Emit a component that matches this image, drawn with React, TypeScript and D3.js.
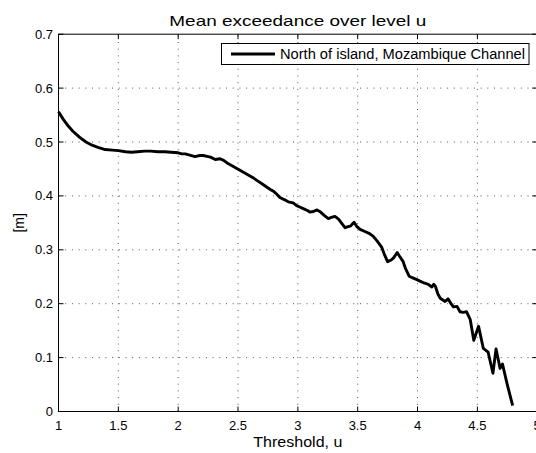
import React from "react";
import * as d3 from "d3";

const thresholds = [
  1.0, 1.04, 1.08, 1.12, 1.18, 1.23, 1.28, 1.33, 1.39, 1.45, 1.5, 1.56, 1.61, 1.66, 1.72, 1.77, 1.83, 1.89, 1.94, 2.0,
  2.03, 2.06, 2.09, 2.14, 2.18, 2.21, 2.25, 2.27, 2.31, 2.35, 2.38, 2.42, 2.45, 2.49, 2.52, 2.56, 2.6, 2.63, 2.67, 2.7,
  2.73, 2.77, 2.8, 2.82, 2.85, 2.89, 2.92, 2.96, 2.99, 3.02, 3.05, 3.08, 3.1, 3.13, 3.16, 3.19, 3.22, 3.255, 3.28, 3.31,
  3.34, 3.37, 3.394, 3.42, 3.44, 3.47, 3.49, 3.52, 3.56, 3.6, 3.63, 3.66, 3.7, 3.72, 3.75, 3.78, 3.8, 3.83, 3.85, 3.88,
  3.9, 3.93, 3.96, 3.99, 4.02, 4.06, 4.09, 4.12, 4.135, 4.15, 4.17, 4.19, 4.23, 4.255, 4.28, 4.3, 4.33, 4.355, 4.38, 4.41,
  4.44, 4.47, 4.51, 4.55, 4.59, 4.63, 4.656, 4.69, 4.71, 4.75, 4.795,
];
const meanExcess = [
  0.556, 0.542, 0.53, 0.52, 0.508, 0.5, 0.494, 0.49, 0.486, 0.485, 0.484, 0.482, 0.481, 0.482, 0.483, 0.483, 0.482, 0.482, 0.481, 0.48,
  0.478, 0.478, 0.476, 0.473, 0.475, 0.475, 0.473, 0.472, 0.4675, 0.469, 0.466, 0.4595, 0.456, 0.451, 0.447, 0.442, 0.437, 0.433, 0.427, 0.4225,
  0.418, 0.412, 0.408, 0.404, 0.397, 0.3927, 0.389, 0.387, 0.382, 0.379, 0.376, 0.373, 0.37, 0.371, 0.374, 0.37, 0.364, 0.358, 0.36, 0.362,
  0.357, 0.348, 0.341, 0.343, 0.344, 0.351, 0.344, 0.338, 0.334, 0.33, 0.325, 0.317, 0.305, 0.293, 0.278, 0.281, 0.285, 0.295, 0.288, 0.278,
  0.265, 0.251, 0.248, 0.245, 0.242, 0.238, 0.236, 0.231, 0.236, 0.232, 0.218, 0.21, 0.204, 0.209, 0.2, 0.194, 0.195, 0.185, 0.184, 0.185,
  0.171, 0.132, 0.158, 0.117, 0.11, 0.071, 0.116, 0.08, 0.088, 0.05, 0.011,
];
const xTicks = [1, 1.5, 2, 2.5, 3, 3.5, 4, 4.5, 5];
const yTicks = [0, 0.1, 0.2, 0.3, 0.4, 0.5, 0.6, 0.7];
const titleText = "Mean exceedance over level u";
const xLabelText = "Threshold, u";
const yLabelText = "[m]";
const legendText = "North of island, Mozambique Channel";

const W = 536;
const H = 453;
const FONT = "'Liberation Sans', Arial, Helvetica, sans-serif";

export default function App() {
  const x = d3.scaleLinear().domain([1, 5]).range([58.5, 537.2]);
  const y = d3.scaleLinear().domain([0, 0.7]).range([411.5, 34.2]);
  const [x0, x1] = x.range();
  const [yb, yt] = y.range();
  const pts: [number, number][] = thresholds.map((t, i) => [t, meanExcess[i]]);
  const line = d3
    .line<[number, number]>()
    .x((d) => x(d[0]))
    .y((d) => y(d[1]));
  const tl = 5;
  const fmt = (v: number) => (v === 0 ? "0" : d3.format("")(+v.toFixed(2)));

  return (
    <svg width={W} height={H} style={{ display: "block", position: "absolute", left: 0, top: 0, background: "#fff" }} fontFamily={FONT}>
      <rect x={0} y={0} width={W} height={H} fill="#fff" />
      {xTicks.slice(1, -1).map((t) => (
        <line key={"gx" + t} x1={x(t)} x2={x(t)} y1={yb} y2={yt} stroke="#555" strokeWidth={1} strokeDasharray="1,5.7" />
      ))}
      {yTicks.slice(1, -1).map((t) => (
        <line key={"gy" + t} x1={x0} x2={x1} y1={y(t)} y2={y(t)} stroke="#555" strokeWidth={1} strokeDasharray="1,5.7" />
      ))}
      {xTicks.map((t) => (
        <g key={"tx" + t}>
          <line x1={x(t)} x2={x(t)} y1={yb} y2={yb - tl} stroke="#000" />
          <line x1={x(t)} x2={x(t)} y1={yt} y2={yt + tl} stroke="#000" />
          <text x={x(t)} y={430} fontSize={13} textAnchor="middle" fill="#000">
            {fmt(t)}
          </text>
        </g>
      ))}
      {yTicks.map((t) => (
        <g key={"ty" + t}>
          <line x1={x0} x2={x0 + tl} y1={y(t)} y2={y(t)} stroke="#000" />
          <line x1={x1} x2={x1 - tl} y1={y(t)} y2={y(t)} stroke="#000" />
          <text x={53} y={y(t) + 4.5} fontSize={13} textAnchor="end" fill="#000">
            {fmt(t)}
          </text>
        </g>
      ))}
      <rect x={x0} y={yt} width={x1 - x0} height={yb - yt} fill="none" stroke="#000" strokeWidth={1} />
      <path d={line(pts) || ""} fill="none" stroke="#000" strokeWidth={2.9} strokeLinejoin="round" />
      <rect x={221.5} y={43.5} width={307.5} height={21} fill="#fff" stroke="#000" strokeWidth={1} />
      <line x1={231} x2={275} y1={54} y2={54} stroke="#000" strokeWidth={2.9} />
      <text x={280} y={59} fontSize={14} fill="#000" textLength={245} lengthAdjust="spacingAndGlyphs">
        {legendText}
      </text>
      <text x={(x0 + x1) / 2} y={25.5} fontSize={15} textAnchor="middle" fill="#000" textLength={257} lengthAdjust="spacingAndGlyphs">
        {titleText}
      </text>
      <text x={(x0 + x1) / 2} y={447} fontSize={14} textAnchor="middle" fill="#000" textLength={89} lengthAdjust="spacingAndGlyphs">
        {xLabelText}
      </text>
      <text transform={`translate(24, ${(yb + yt) / 2}) rotate(-90)`} fontSize={14} textAnchor="middle" fill="#000">
        {yLabelText}
      </text>
    </svg>
  );
}
